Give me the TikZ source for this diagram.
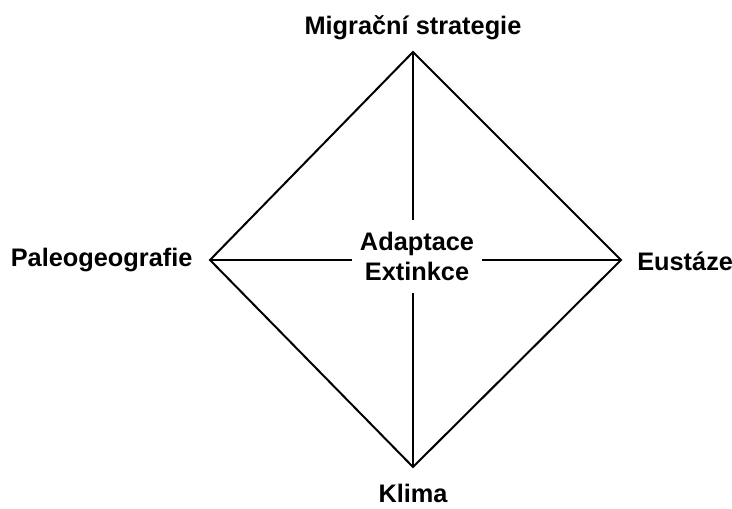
\documentclass[tikz,border=0pt]{standalone}
\usepackage{fontspec}
\setmainfont{Liberation Sans}
\usetikzlibrary{positioning}

\tikzset{
  lbl/.style={font=\fontsize{19}{22}\selectfont\bfseries, inner sep=0pt},
  edge/.style={line width=1.5pt, line join=miter}
}

\begin{document}
\begin{tikzpicture}[x=0.75pt,y=0.75pt,yscale=-1,xscale=1]
\useasboundingbox (0,0) rectangle (732,509);

% corners of the square
\coordinate (top) at (413,52);
\coordinate (left) at (210,260);
\coordinate (right) at (621,260);
\coordinate (bottom) at (413,467);

% Text Node
\node (mid) [lbl, align=center, minimum width=97.5pt, minimum height=54pt] at (417,256.5) {Adaptace\\Extinkce};
% Text Node
\node (migr) [lbl, above=9pt of top] {Migrační strategie};
% Text Node
\node (paleo) [lbl, left=13pt of left] {Paleogeografie};
% Text Node
\node (eust) [lbl, right=12pt of right, yshift=-1pt] {Eustáze};
% Text Node
\node (klima) [lbl, below=13pt of bottom] {Klima};

% outline
\draw [edge] (top) -- (right) -- (bottom) -- (left) -- cycle;
% cross
\draw [edge] (top) -- (top |- mid.north);
\draw [edge] (bottom) -- (bottom |- mid.south);
\draw [edge] (left) -- (left -| mid.west);
\draw [edge] (right) -- (right -| mid.east);

\end{tikzpicture}
\end{document}
